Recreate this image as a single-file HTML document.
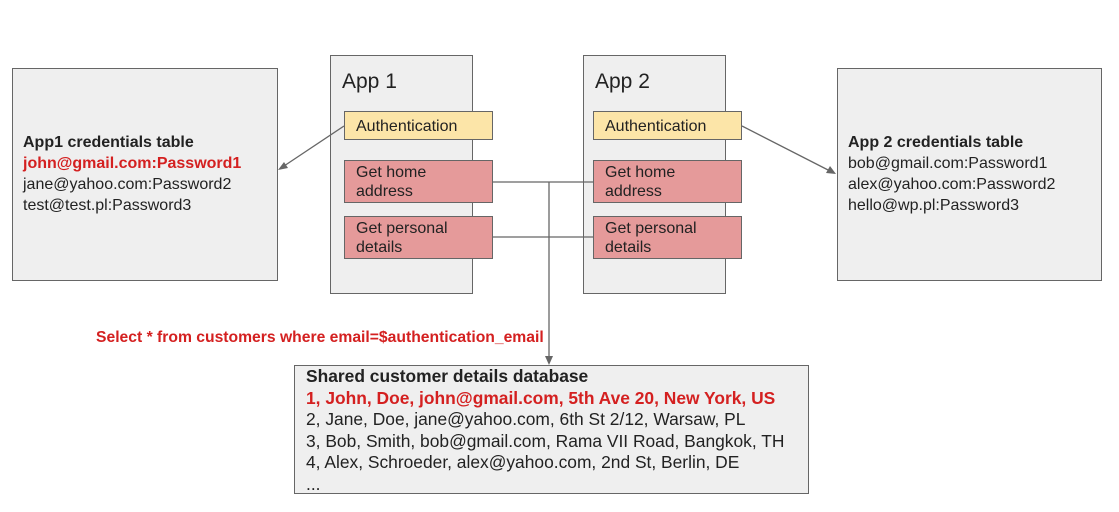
<!DOCTYPE html>
<html><head><style>
body{margin:0;width:1119px;height:512px;background:#fff;position:relative;font-family:"Liberation Sans",Arial,sans-serif;overflow:hidden}
.b{position:absolute;box-sizing:border-box;border:1px solid #666;background:#efefef}
.t{position:absolute;font-size:16px;line-height:21px;color:#222;white-space:nowrap}
.y{background:#fce5a8}
.r{background:#e59a9a}
.in{font-size:16px;line-height:19px;padding:2px 0 0 11px;color:#222}
.red{color:#d42020;font-weight:bold}
</style></head><body>
<div class="b" style="left:12px;top:68px;width:266px;height:213px"></div>
<div class="t" style="left:23px;top:132px"><b>App1 credentials table</b><br><span class="red">john@gmail.com:Password1</span><br>jane@yahoo.com:Password2<br>test@test.pl:Password3</div>

<div class="b" style="left:330px;top:55px;width:143px;height:239px"></div>
<div class="t" style="left:342px;top:70px;font-size:21px;line-height:24px">App 1</div>
<div class="b y in" style="left:344px;top:111px;width:149px;height:29px;padding-top:5px">Authentication</div>
<div class="b r in" style="left:344px;top:160px;width:149px;height:43px">Get home<br>address</div>
<div class="b r in" style="left:344px;top:216px;width:149px;height:43px">Get personal<br>details</div>

<div class="b" style="left:583px;top:55px;width:143px;height:239px"></div>
<div class="t" style="left:595px;top:70px;font-size:21px;line-height:24px">App 2</div>
<div class="b y in" style="left:593px;top:111px;width:149px;height:29px;padding-top:5px">Authentication</div>
<div class="b r in" style="left:593px;top:160px;width:149px;height:43px">Get home<br>address</div>
<div class="b r in" style="left:593px;top:216px;width:149px;height:43px">Get personal<br>details</div>

<div class="b" style="left:837px;top:68px;width:265px;height:213px"></div>
<div class="t" style="left:848px;top:132px"><b>App 2 credentials table</b><br>bob@gmail.com:Password1<br>alex@yahoo.com:Password2<br>hello@wp.pl:Password3</div>

<div class="t red" style="left:96px;top:327px;font-size:15.7px">Select * from customers where email=$authentication_email</div>

<div class="b" style="left:294px;top:365px;width:515px;height:129px"></div>
<div class="t" style="left:306px;top:366px;line-height:21.5px;font-size:17.4px"><b>Shared customer details database</b><br><span class="red">1, John, Doe, john@gmail.com, 5th Ave 20, New York, US</span><br>2, Jane, Doe, jane@yahoo.com, 6th St 2/12, Warsaw, PL<br>3, Bob, Smith, bob@gmail.com, Rama VII Road, Bangkok, TH<br>4, Alex, Schroeder, alex@yahoo.com, 2nd St, Berlin, DE<br>...</div>

<svg style="position:absolute;left:0;top:0" width="1119" height="512">
<g stroke="#666" stroke-width="1.3" fill="none">
<line x1="493" y1="182" x2="593" y2="182"/>
<line x1="493" y1="237" x2="593" y2="237"/>
<line x1="549" y1="182" x2="549" y2="360"/>
<line x1="344" y1="126" x2="281" y2="168"/>
<line x1="742" y1="126" x2="832" y2="172"/>
</g>
<g fill="#666">
<polygon points="549,365 545,356 553,356"/>
<polygon points="278,170 284,162 288,168"/>
<polygon points="836,174 826,173 830,166"/>
</g>
</svg>
</body></html>
